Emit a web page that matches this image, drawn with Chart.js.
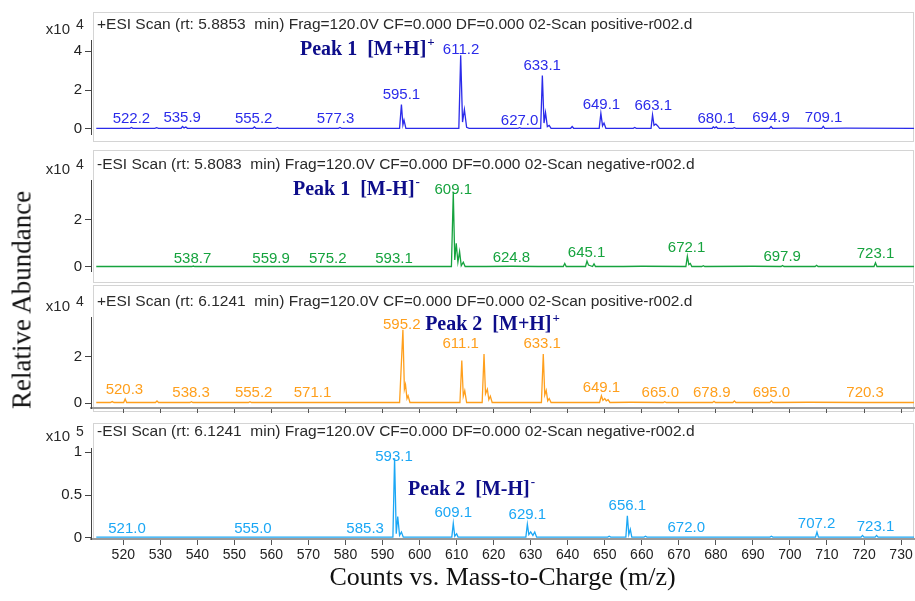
<!DOCTYPE html>
<html>
<head>
<meta charset="utf-8">
<script src="https://cdn.jsdelivr.net/npm/chart.js@4.4.0/dist/chart.umd.min.js"></script>
<style>
  body { margin: 0; background: #fff; width: 915px; height: 601px; position: relative; overflow: hidden; }
  canvas { position: absolute; left: 0; }
  #ytitle {
    position: absolute; left: 22px; top: 300px;
    transform: translate(-50%, -50%) rotate(-90deg);
    font-family: "Liberation Serif", "Times New Roman", serif; font-size: 27px;
    color: #111; white-space: nowrap;
  }
</style>
</head>
<body>
<canvas id="c1" width="915" height="146" style="top:0px"></canvas>
<canvas id="c2" width="915" height="137" style="top:146px"></canvas>
<canvas id="c3" width="915" height="137" style="top:283px"></canvas>
<canvas id="c4" width="915" height="181" style="top:420px"></canvas>
<div id="ytitle">Relative Abundance</div>
<script>
// x axis (m/z)
const xTicks = [520, 530, 540, 550, 560, 570, 580, 590, 600, 610, 620, 630, 640, 650, 660, 670, 680, 690, 700, 710, 720, 730];
const xMin = 511.28, xMax = 733.5;

// +ESI, rt 5.8853 (x10^4)
const pos1Mz = [512.7, 517, 521.8, 522.2, 522.6, 528.5, 529, 529.5, 535.6, 536.0, 536.4, 536.9, 537.3, 546,
  555.0, 555.4, 555.8, 561.2, 561.6, 562.0, 570, 578.1, 578.5, 578.9, 586,
  594.6, 595.1, 595.5, 595.8, 596.3, 603,
  610.6, 611.1, 611.6, 612.1, 612.7, 613.4, 620, 626.6, 627.0, 627.4,
  632.7, 633.15, 633.6, 634.0, 634.5, 635.0, 635.5, 640.8, 641.2, 641.6,
  648.5, 648.95, 649.4, 649.8, 650.3, 654, 657.7, 658.1, 658.5,
  662.5, 662.9, 663.3, 663.8, 664.3, 664.8, 672, 679.0, 679.3, 679.7, 680.1, 680.5,
  684.6, 685, 685.4, 694.5, 694.9, 695.3, 701, 708.6, 709.0, 709.4, 715, 733.5];
const pos1Ab = [0.03, 0.03, 0.03, 0.07, 0.03, 0.03, 0.06, 0.03, 0.03, 0.12, 0.05, 0.1, 0.03, 0.03,
  0.03, 0.1, 0.03, 0.03, 0.07, 0.03, 0.03, 0.03, 0.07, 0.03, 0.03,
  0.03, 1.25, 0.2, 0.45, 0.03, 0.03,
  0.03, 3.8, 0.35, 1.0, 0.08, 0.03, 0.03, 0.03, 0.06, 0.03,
  0.03, 2.75, 0.3, 0.84, 0.12, 0.18, 0.03, 0.03, 0.12, 0.03,
  0.03, 0.8, 0.15, 0.3, 0.03, 0.03, 0.03, 0.07, 0.03,
  0.03, 0.72, 0.18, 0.25, 0.15, 0.03, 0.03, 0.03, 0.1, 0.05, 0.1, 0.03,
  0.03, 0.06, 0.03, 0.03, 0.12, 0.03, 0.04, 0.03, 0.13, 0.03, 0.04, 0.03];
const pos1LabelMz = [522.2, 535.9, 555.2, 577.3, 595.1, 611.2, 627.0, 633.1, 649.1, 663.1, 680.1, 694.9, 709.1];
const pos1LabelAb = [0.5, 0.58, 0.5, 0.5, 1.75, 4.08, 0.42, 3.25, 1.25, 1.17, 0.5, 0.55, 0.55];

// -ESI, rt 5.8083 (x10^4)
const neg1Mz = [512.7, 530, 538.5, 538.9, 539.3, 560, 575, 593, 605,
  608.6, 609.1, 609.5, 609.9, 610.35, 610.8, 611.25, 611.8, 612.3, 618, 624.8, 632,
  638.8, 639.2, 639.6, 644.8, 645.2, 645.6, 646.7, 647.1, 647.5, 655, 660,
  671.9, 672.3, 672.7, 673.1, 673.5, 676.2, 676.6, 677, 690,
  697.6, 698, 698.4, 706.8, 707.2, 707.6, 715, 722.7, 723.1, 723.5, 733.5];
const neg1Ab = [0.02, 0.02, 0.02, 0.04, 0.02, 0.02, 0.02, 0.02, 0.02,
  0.02, 3.14, 0.3, 1.0, 0.2, 0.65, 0.05, 0.2, 0.02, 0.02, 0.03, 0.02,
  0.02, 0.15, 0.02, 0.02, 0.25, 0.08, 0.02, 0.13, 0.02, 0.02, 0.03,
  0.02, 0.45, 0.1, 0.15, 0.02, 0.02, 0.05, 0.02, 0.03,
  0.02, 0.06, 0.02, 0.02, 0.07, 0.02, 0.02, 0.02, 0.18, 0.02, 0.02];
const neg1LabelMz = [538.7, 559.9, 575.2, 593.1, 609.1, 624.8, 645.1, 672.1, 697.9, 723.1];
const neg1LabelAb = [0.34, 0.34, 0.34, 0.34, 3.27, 0.4, 0.6, 0.8, 0.44, 0.54];

// +ESI, rt 6.1241 (x10^4)
const pos2Mz = [512.7, 516.5, 517, 517.5, 520.1, 520.5, 520.9, 523, 528.7, 529.1, 529.5,
  538, 538.4, 538.8, 550, 553.8, 554.2, 554.6, 570,
  594.6, 595.5, 595.9, 596.2, 596.6, 596.9, 597.4, 605,
  610.9, 611.4, 611.8, 612.2, 612.7, 616.9, 617.4, 617.8, 618.3, 618.7, 619.1, 619.6, 626,
  632.9, 633.4, 633.8, 634.2, 634.6, 635.0, 635.5, 642,
  648.6, 649.1, 649.5, 650.0, 650.4, 650.9, 651.4, 657,
  665.8, 666.2, 666.6, 679.1, 679.5, 679.9, 684.6, 685, 685.4, 694.6, 695, 695.4, 705, 720, 733.5];
const pos2Ab = [0.03, 0.03, 0.07, 0.03, 0.03, 0.18, 0.03, 0.03, 0.03, 0.1, 0.03,
  0.03, 0.06, 0.03, 0.03, 0.03, 0.06, 0.03, 0.03,
  0.03, 3.15, 0.6, 0.8, 0.2, 0.32, 0.03, 0.03,
  0.03, 1.83, 0.3, 0.54, 0.03, 0.03, 2.11, 0.4, 0.6, 0.15, 0.3, 0.03, 0.03,
  0.03, 2.11, 0.35, 0.55, 0.1, 0.2, 0.03, 0.03,
  0.03, 0.32, 0.12, 0.2, 0.1, 0.15, 0.03, 0.04,
  0.03, 0.06, 0.03, 0.03, 0.08, 0.03, 0.03, 0.1, 0.03, 0.03, 0.1, 0.03, 0.04, 0.03, 0.03];
const pos2LabelMz = [520.3, 538.3, 555.2, 571.1, 595.2, 611.1, 633.1, 649.1, 665.0, 678.9, 695.0, 720.3];
const pos2LabelAb = [0.59, 0.46, 0.46, 0.46, 3.35, 2.53, 2.53, 0.66, 0.46, 0.46, 0.46, 0.46];

// -ESI, rt 6.1241 (x10^5)
const neg2Mz = [512.7, 560, 580,
  592.8, 593.25, 593.7, 594.1, 594.6, 595.1, 595.6, 603,
  608.7, 609.1, 609.5, 610.0, 610.4, 618,
  628.7, 629.1, 629.5, 630.0, 630.6, 631.1, 631.6, 640, 650.8, 651.2, 651.6,
  655.7, 656.1, 656.5, 656.9, 657.3, 660.6, 661, 661.4, 672, 678, 690,
  694.6, 695, 695.4, 706.9, 707.3, 707.7, 712, 719.2, 719.6, 720, 723, 723.4, 723.8, 733.5];
const neg2Ab = [0.01, 0.01, 0.01,
  0.01, 0.93, 0.05, 0.25, 0.03, 0.07, 0.01, 0.01,
  0.01, 0.17, 0.02, 0.05, 0.01, 0.01,
  0.01, 0.16, 0.04, 0.07, 0.03, 0.07, 0.01, 0.01, 0.01, 0.02, 0.01,
  0.01, 0.26, 0.04, 0.1, 0.01, 0.01, 0.02, 0.01, 0.01, 0.01, 0.01,
  0.01, 0.02, 0.01, 0.01, 0.07, 0.01, 0.01, 0.01, 0.03, 0.01, 0.01, 0.03, 0.01, 0.01];
const neg2LabelMz = [521.0, 555.0, 585.3, 593.1, 609.1, 629.1, 656.1, 672.0, 707.2, 723.1];
const neg2LabelAb = [0.11, 0.11, 0.11, 0.95, 0.29, 0.27, 0.38, 0.12, 0.17, 0.13];

const SANS = '"Liberation Sans", Arial, sans-serif';
const SERIF = '"Liberation Serif", "Times New Roman", serif';

// panel frame, scan header, exponent, peak labels, peak note
const panelDeco = {
  id: 'panelDeco',
  beforeDraw(chart, args, o) {
    const ctx = chart.ctx;
    ctx.save();
    ctx.strokeStyle = '#d4d4d4';
    ctx.lineWidth = 1;
    ctx.strokeRect(93.5, o.boxTop + 0.5, 820, o.boxBottom - o.boxTop);
    ctx.fillStyle = '#2a2a2a';
    ctx.font = '15.5px ' + SANS;
    ctx.textBaseline = 'middle';
    ctx.textAlign = 'left';
    ctx.fillText(o.header, 97, o.headerY);
    ctx.textAlign = 'right';
    ctx.font = '15px ' + SANS;
    ctx.fillText('x10', 70, o.headerY + 5);
    ctx.textAlign = 'left';
    ctx.font = '14px ' + SANS;
    ctx.fillText(o.exp, 76, o.headerY);
    ctx.restore();
  },
  afterDatasetsDraw(chart, args, o) {
    const { ctx, scales: { x, y } } = chart;
    ctx.save();
    ctx.font = '15px ' + SANS;
    ctx.fillStyle = o.color;
    ctx.textAlign = 'center';
    ctx.textBaseline = 'middle';
    o.labelMz.forEach((m, i) => {
      ctx.fillText(m.toFixed(1), x.getPixelForValue(m), y.getPixelForValue(o.labelAb[i]));
    });
    ctx.fillStyle = '#0d0d8a';
    ctx.font = 'bold 20px ' + SERIF;
    ctx.textAlign = 'left';
    const nx = x.getPixelForValue(o.noteMz), ny = y.getPixelForValue(o.noteAb);
    ctx.fillText(o.note, nx, ny);
    const w = ctx.measureText(o.note).width;
    ctx.font = 'bold 13px ' + SERIF;
    ctx.fillText(o.noteSup, nx + w + 1, ny - 7);
    ctx.restore();
  }
};

function spectrum(id, mz, ab, color, yTicks, yMin, yMax, padTop, padBottom, xMode, deco) {
  const xVisible = xMode !== 'none';
  deco.color = color;
  return new Chart(document.getElementById(id), {
    type: 'line',
    data: {
      datasets: [{
        data: mz.map((m, i) => ({ x: m, y: ab[i] })),
        borderColor: color,
        borderWidth: 1.3,
        pointRadius: 0,
        tension: 0,
        fill: false
      }]
    },
    options: {
      responsive: false,
      animation: false,
      events: [],
      layout: { padding: { top: padTop, bottom: padBottom, left: 0, right: 1 } },
      plugins: { legend: { display: false }, tooltip: { enabled: false }, panelDeco: deco },
      scales: {
        x: {
          type: 'linear', min: xMin, max: xMax, display: xVisible,
          afterFit: s => { if (xVisible) s.height = xMode === 'full' ? 62 : 9; },
          afterBuildTicks: s => { s.ticks = xTicks.map(v => ({ value: v })); },
          ticks: {
            display: xMode === 'full', color: '#222', padding: 2, maxRotation: 0, autoSkip: false,
            font: { family: '"Liberation Sans Narrow", "Arial Narrow", ' + SANS, size: 14 }
          },
          grid: { drawOnChartArea: false, tickLength: xMode === 'full' ? 6 : 5, color: '#555' },
          border: { color: '#9a9a9a', width: 2 },
          title: {
            display: xMode === 'full', text: 'Counts vs. Mass-to-Charge (m/z)', color: '#111',
            font: { family: SERIF, size: 26 }, padding: { top: 0, bottom: 7 }
          }
        },
        y: {
          min: yMin, max: yMax,
          afterFit: s => { s.width = 91; },
          afterBuildTicks: s => { s.ticks = yTicks.map(v => ({ value: v })); },
          ticks: { color: '#222', padding: 3, font: { family: SANS, size: 15 }, callback: v => String(v) },
          grid: { drawOnChartArea: false, tickLength: 6, color: '#444' },
          border: { color: '#444', width: 1 }
        }
      }
    },
    plugins: [panelDeco]
  });
}

spectrum('c1', pos1Mz, pos1Ab, '#2b2bea', [0, 2, 4], -0.265, 4.585, 40, 9, 'none', {
  boxTop: 12, boxBottom: 141, headerY: 25, exp: '4',
  header: '+ESI Scan (rt: 5.8853  min) Frag=120.0V CF=0.000 DF=0.000 02-Scan positive-r002.d',
  labelMz: pos1LabelMz, labelAb: pos1LabelAb,
  note: 'Peak 1  [M+H]', noteSup: '+', noteMz: 567.7, noteAb: 4.09
});
spectrum('c2', neg1Mz, neg1Ab, '#16a33e', [0, 2], -0.17, 3.67, 34, 7, 'none', {
  boxTop: 4, boxBottom: 136, headerY: 19, exp: '4',
  header: '-ESI Scan (rt: 5.8083  min) Frag=120.0V CF=0.000 DF=0.000 02-Scan negative-r002.d',
  labelMz: neg1LabelMz, labelAb: neg1LabelAb,
  note: 'Peak 1  [M-H]', noteSup: '-', noteMz: 565.8, noteAb: 3.27
});
spectrum('c3', pos2Mz, pos2Ab, '#ff9f1c', [0, 2], -0.207, 3.70, 34, 0, 'ticks', {
  boxTop: 2, boxBottom: 128, headerY: 19, exp: '4',
  header: '+ESI Scan (rt: 6.1241  min) Frag=120.0V CF=0.000 DF=0.000 02-Scan positive-r002.d',
  labelMz: pos2LabelMz, labelAb: pos2LabelAb,
  note: 'Peak 2  [M+H]', noteSup: '+', noteMz: 601.5, noteAb: 3.35
});
spectrum('c4', neg2Mz, neg2Ab, '#1ba7f5', [0, 0.5, 1], -0.012, 1.05, 28, 0, 'full', {
  boxTop: 3, boxBottom: 119, headerY: 12, exp: '5',
  header: '-ESI Scan (rt: 6.1241  min) Frag=120.0V CF=0.000 DF=0.000 02-Scan negative-r002.d',
  labelMz: neg2LabelMz, labelAb: neg2LabelAb,
  note: 'Peak 2  [M-H]', noteSup: '-', noteMz: 596.9, noteAb: 0.56
});
</script>
</body>
</html>
